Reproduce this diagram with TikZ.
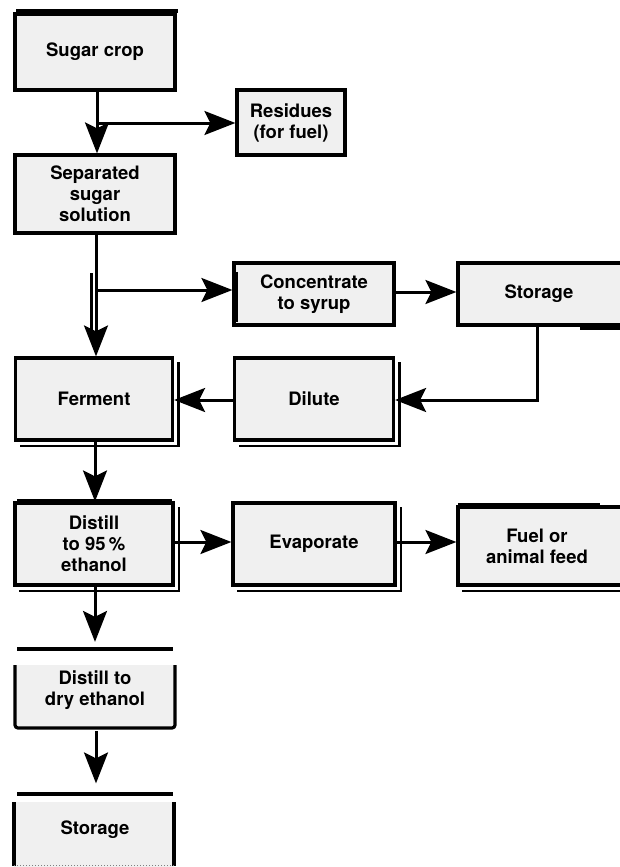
\documentclass[tikz,border=0pt]{standalone}
\usepackage{fontspec}
\setmainfont{TeX Gyre Heros}
\usetikzlibrary{arrows.meta,calc}
\tikzset{
  box/.style={draw, line width=3.2pt, fill=black!6, align=center, inner sep=0pt,
    font=\bfseries\fontsize{18.5}{21}\selectfont},
  openbox/.style={box, draw=none},
  arr/.style={line width=3pt, -{Stealth[length=31pt,width=24pt,inset=6pt]}},
  plain/.style={line width=3.2pt},
  shade/.style={line width=2.4pt},
}
\newcommand\boxshade[1]{\draw[shade] ([xshift=4.5pt,yshift=-6pt]#1.north east) |- ([xshift=6pt,yshift=-4.5pt]#1.south west);}
\begin{document}
\begin{tikzpicture}[x=1pt,y=-1pt]
\useasboundingbox[fill=white] (0,0) rectangle (620,867);
% boxes
\node[box, minimum width=160pt, minimum height=76pt] (sugar) at (95,52) {Sugar crop};
\draw[line width=3.5pt] (16,11) -- (178,11);
\node[box, minimum width=108pt, minimum height=65pt] (residues) at (291,122.5) {Residues\\(for fuel)};
\node[box, minimum width=160pt, minimum height=78pt] (sep) at (95,194) {Separated\\sugar\\solution};
\node[box, minimum width=160pt, minimum height=62pt] (conc) at (314,294) {Concentrate\\to syrup};
\draw[line width=5pt] (235,272) -- (235,322);
\node[box, minimum width=172pt, minimum height=62pt] (stor1) at (544,294) {\hspace*{-10pt}Storage};
\draw[line width=5pt] (580,327) -- (622,327);
\node[box, minimum width=157pt, minimum height=82pt] (ferment) at (94,399) {Ferment};
\node[box, minimum width=159pt, minimum height=82pt] (dilute) at (314,399) {Dilute};
\node[box, minimum width=158pt, minimum height=82pt] (distill) at (94,544) {Distill\\to 95\,\%\\ethanol};
\node[box, minimum width=162pt, minimum height=82pt] (evap) at (314,544) {Evaporate};
\node[box, minimum width=172pt, minimum height=78pt] (fuel) at (544,546) {\hspace*{-14pt}Fuel or\\\hspace*{-14pt}animal feed};
\boxshade{ferment}
\boxshade{dilute}
\boxshade{distill}
\boxshade{evap}
\boxshade{fuel}
\draw[shade] (458,504) -- (600,504);
\draw[shade] (17,500) -- (172,500);
% open-top boxes
\fill[black!6] (15,665) rectangle (175,728);
\node[openbox, fill=none, minimum width=160pt, minimum height=79pt] (dry) at (95,690) {Distill to\\dry ethanol};
\draw[line width=3.5pt] (17,649) -- (173,649);
\draw[plain, rounded corners=3pt] (15,665) -- (15,728) -- (175,728) -- (175,665);
\fill[black!6] (14,802) rectangle (174,867);
\node[openbox, fill=none, minimum width=160pt, minimum height=76pt] (stor2) at (95,830) {Storage};
\draw[line width=3.5pt] (17,794) -- (173,794);
\draw[plain] (14,802) -- (14,866);
\draw[plain] (174,802) -- (174,866);
\draw[line width=1pt, black!50, dotted] (14,865) -- (174,865);
% connectors
\coordinate (j1) at (97,123);
\coordinate (j2) at (97,290);
\coordinate (c1) at (537,400);
\draw[arr] (sugar.south -| 97,0) -- (sep.north -| 97,0);
\draw[arr] (j1) -- (j1 -| residues.west);
\draw[arr] (sep.south -| 96,0) -- (ferment.north -| 96,0);
\draw[line width=2.8pt] (91.5,273) -- (91.5,335);
\draw[arr] (j2) -- (j2 -| conc.west);
\draw[arr] (conc.east |- 0,292) -- (stor1.west |- 0,292);
\draw[arr] (stor1.south -| c1) -- (c1) -- (dilute.east |- c1);
\draw[arr] (dilute.west |- c1) -- (ferment.east |- c1);
\draw[arr] (ferment.south -| 95,0) -- (distill.north -| 95,0);
\draw[arr] (distill.east |- 0,542) -- (evap.west |- 0,542);
\draw[arr] (evap.east |- 0,542) -- (fuel.west |- 0,542);
\draw[arr] (distill.south -| 95,0) -- ($(dry.north -| 95,0)+(0,-7)$);
\draw[arr] (dry.south -| 96,0) -- ($(stor2.north -| 96,0)+(0,-7)$);
\end{tikzpicture}
\end{document}
